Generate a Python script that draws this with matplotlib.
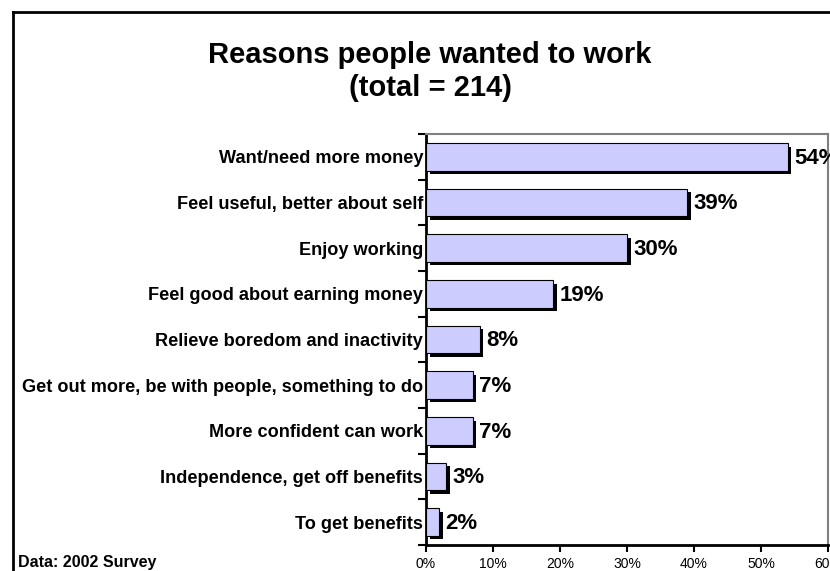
import matplotlib
matplotlib.use("Agg")
import matplotlib.pyplot as plt
import matplotlib.transforms as mtransforms
from matplotlib.lines import Line2D

plt.rcParams['font.family'] = ['Liberation Sans', 'DejaVu Sans']

reasons = ["Want/need more money",
           "Feel useful, better about self",
           "Enjoy working",
           "Feel good about earning money",
           "Relieve boredom and inactivity",
           "Get out more, be with people, something to do",
           "More confident can work",
           "Independence, get off benefits",
           "To get benefits"]
percent = [54, 39, 30, 19, 8, 7, 7, 3, 2]
x_ticks = [0, 10, 20, 30, 40, 50, 60]

fig = plt.figure(figsize=(8.30, 5.71), dpi=100)
ax = fig.add_axes([426/830, 26/571, 402/830, 411/571])

ypos = list(range(len(reasons)))

# black drop shadow, shifted right and down by a few pixels
shadow = ax.transData + mtransforms.ScaledTranslation(3.5/100, -3.5/100, fig.dpi_scale_trans)
ax.barh(ypos, percent, height=0.6, color='black', transform=shadow, zorder=2)
ax.barh(ypos, percent, height=0.6, color='#CCCCFF', edgecolor='black',
        linewidth=0.8, zorder=3)

for y, v in zip(ypos, percent):
    ax.annotate(f"{v}%", xy=(v, y), xytext=(4.5, -1), textcoords='offset points',
                va='center', ha='left', fontsize=16, fontweight='bold', zorder=4,
                annotation_clip=False)

ax.set_xlim(0, 60)
ax.set_ylim(len(reasons) - 0.5, -0.5)

ax.set_xticks(x_ticks)
ax.set_xticklabels([f"{t}%" for t in x_ticks], fontsize=10)
ax.tick_params(axis='x', direction='out', length=5, width=1.5, pad=4)

# boundary ticks between categories, labels at the centres
ax.set_yticks([i - 0.5 for i in range(len(reasons) + 1)])
ax.set_yticklabels([])
ax.set_yticks(ypos, minor=True)
ax.set_yticklabels(reasons, minor=True, fontsize=13.1, fontweight='bold')
ax.tick_params(axis='y', which='major', direction='out', length=6, width=1.5)
ax.tick_params(axis='y', which='minor', length=0, pad=2)

for side in ['left', 'bottom']:
    ax.spines[side].set_linewidth(2)
    ax.spines[side].set_color('black')
for side in ['top', 'right']:
    ax.spines[side].set_linewidth(1.5)
    ax.spines[side].set_color('#808080')

fig.text(430/830, 1 - 55/571, "Reasons people wanted to work",
         ha='center', va='center', fontsize=21, fontweight='bold')
fig.text(430/830, 1 - 88/571, "(total = 214)",
         ha='center', va='center', fontsize=21, fontweight='bold')
fig.text(18/830, 1 - 563/571, "Data: 2002 Survey", ha='left', va='center',
         fontsize=11.5, fontweight='bold')

# outer frame
fig.add_artist(Line2D([13/830, 1.0], [1 - 12/571, 1 - 12/571], transform=fig.transFigure,
                      color='black', linewidth=2))
fig.add_artist(Line2D([13/830, 13/830], [0, 1 - 12/571], transform=fig.transFigure,
                      color='black', linewidth=2))

fig.savefig("out.png", dpi=100)
